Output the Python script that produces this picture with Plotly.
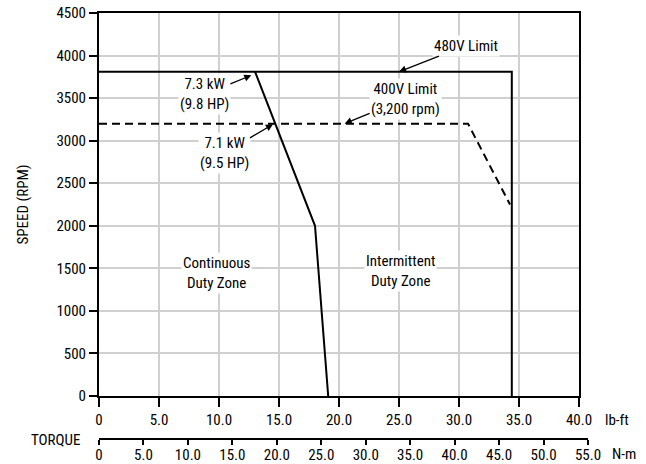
import plotly.graph_objects as go

# ---- data (torque in lb-ft, speed in RPM) ----
limit480_torque = [0, 34.4, 34.4]
limit480_speed = [3810, 3810, 0]

limit400_torque = [0, 30.75, 34.25]
limit400_speed = [3200, 3200, 2250]

continuous_torque = [13.0, 18.0, 19.1]
continuous_speed = [3810, 2000, 0]

lbft_ticks = [0, 5, 10, 15, 20, 25, 30, 35, 40]
lbft_labels = ["0", "5.0", "10.0", "15.0", "20.0", "25.0", "30.0", "35.0", "40.0"]
nm_ticks = [0, 5, 10, 15, 20, 25, 30, 35, 40, 45, 50, 55]
nm_labels = ["0", "5.0", "10.0", "15.0", "20.0", "25.0", "30.0", "35.0", "40.0", "45.0", "50.0", "55.0"]
speed_ticks = [0, 500, 1000, 1500, 2000, 2500, 3000, 3500, 4000, 4500]
speed_labels = [str(v) for v in speed_ticks]

FONT = "Liberation Sans Narrow, Arial Narrow, Roboto Condensed, DejaVu Sans Condensed, Liberation Sans, sans-serif"
FS = 15

fig = go.Figure()
fig.add_trace(go.Scatter(x=limit480_torque, y=limit480_speed, mode="lines",
                         line=dict(color="black", width=2), hoverinfo="skip", showlegend=False))
fig.add_trace(go.Scatter(x=limit400_torque, y=limit400_speed, mode="lines",
                         line=dict(color="black", width=2, dash="8px,5px"), hoverinfo="skip", showlegend=False))
fig.add_trace(go.Scatter(x=continuous_torque, y=continuous_speed, mode="lines",
                         line=dict(color="black", width=2), hoverinfo="skip", showlegend=False))
# invisible trace to host the N-m axis on its own thin strip subplot
fig.add_trace(go.Scatter(x=[nm_ticks[0], nm_ticks[-1]], y=[0, 0], xaxis="x2", yaxis="y2", mode="lines",
                         line=dict(width=0), opacity=0, hoverinfo="skip", showlegend=False))

W, H = 646, 464
ml, mr, mt, mb = 99, 58, 13, 26
pw = W - ml - mr
ph = H - mt - mb
x_dom_end = 480 / pw
y_dom_start = (438 - 396) / ph

fig.update_layout(
    template="none",
    width=W, height=H,
    margin=dict(l=ml, r=mr, t=mt, b=mb, pad=0),
    paper_bgcolor="white", plot_bgcolor="rgba(0,0,0,0)",
    font=dict(family=FONT, size=FS, color="black"),
    showlegend=False,
    xaxis=dict(domain=[0, x_dom_end], range=[0, 40], anchor="y",
               tickvals=lbft_ticks, ticktext=lbft_labels,
               showgrid=True, gridcolor="#d0d0d0", gridwidth=1.5,
               showline=True, linecolor="black", linewidth=2, mirror=True,
               ticks="outside", ticklen=9, tickwidth=1.5, tickcolor="black",
               zeroline=False, automargin=False, tickfont=dict(family=FONT, size=FS)),
    yaxis=dict(domain=[y_dom_start, 1], range=[0, 4500], anchor="x",
               tickvals=speed_ticks, ticktext=speed_labels,
               showgrid=True, gridcolor="#d0d0d0", gridwidth=1.5,
               showline=True, linecolor="black", linewidth=2, mirror=True,
               ticks="outside", ticklen=8, tickwidth=1.5, tickcolor="black",
               zeroline=False, automargin=False, tickfont=dict(family=FONT, size=FS)),
    xaxis2=dict(domain=[0, 1], range=[0, 55], anchor="y2",
                tickvals=nm_ticks, ticktext=nm_labels,
                showgrid=False, showline=True, linecolor="black", linewidth=1.5,
                ticks="outside", ticklen=5, tickwidth=1.5, tickcolor="black",
                ticklabelstandoff=-3,
                zeroline=False, automargin=False, tickfont=dict(family=FONT, size=FS)),
    yaxis2=dict(domain=[0, 0.01], range=[0, 1], anchor="x2", visible=False,
                showgrid=False, zeroline=False),
)

ann_common = dict(showarrow=True, arrowhead=2, arrowsize=1.1, arrowwidth=1.3, arrowcolor="black",
                  bgcolor="white", font=dict(family=FONT, size=FS, color="black"), align="center")

fig.add_annotation(x=25.0, y=3810, ax=67, ay=-26, text="480V Limit", **ann_common)
fig.add_annotation(x=20.47, y=3200, ax=61, ay=-25, text="400V Limit<br>(3,200 rpm)", **ann_common)
fig.add_annotation(x=12.7, y=3768, ax=-47, ay=19, text="7.3 kW<br>(9.8 HP)", **ann_common)
fig.add_annotation(x=14.5, y=3193, ax=-49, ay=29, text="7.1 kW<br>(9.5 HP)", **ann_common)

fig.add_annotation(x=9.78, y=1440, text="Continuous<br>Duty Zone", showarrow=False,
                   bgcolor="white", font=dict(family=FONT, size=FS, color="black"), align="center")
fig.add_annotation(x=25.1, y=1470, text="Intermittent<br>Duty Zone", showarrow=False,
                   bgcolor="white", font=dict(family=FONT, size=FS, color="black"), align="center")

fig.add_annotation(xref="paper", yref="paper", x=(603 - ml) / pw, y=(438 - 420) / ph,
                   xanchor="left", yanchor="middle", text="lb-ft", showarrow=False)
fig.add_annotation(xref="paper", yref="paper", x=(610 - ml) / pw, y=(438 - 454) / ph,
                   xanchor="left", yanchor="middle", text="N-m", showarrow=False)
fig.add_annotation(xref="paper", yref="paper", x=(82 - ml) / pw, y=(438 - 440) / ph,
                   xanchor="right", yanchor="middle", text="TORQUE", showarrow=False)
fig.add_annotation(xref="paper", yref="paper", x=(22 - ml) / pw, y=(438 - 204.5) / ph,
                   xanchor="center", yanchor="middle", text="SPEED (RPM)", textangle=-90,
                   showarrow=False)

fig.write_html("out.html",
               config={"displayModeBar": False},
               post_script="document.body.style.margin='0';document.body.style.padding='0';")
